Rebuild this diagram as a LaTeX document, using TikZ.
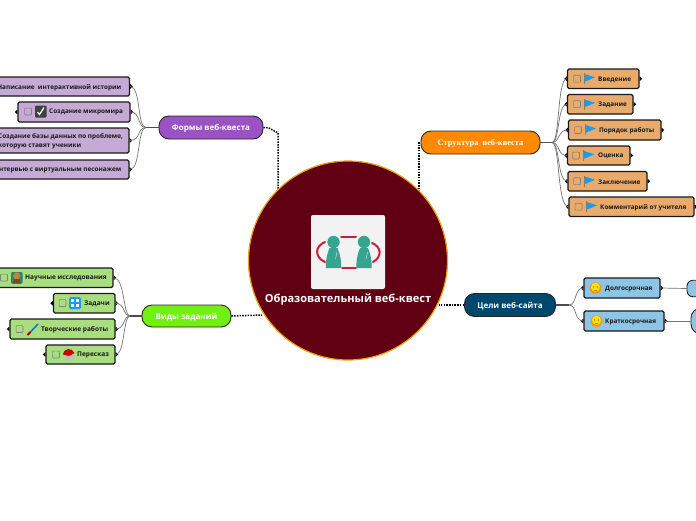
\documentclass[tikz,border=0pt]{standalone}
\usepackage{fontspec}
\setmainfont{Open Sans}
\newfontfamily\serifhead{Liberation Serif}
\tikzset{
 x=1pt,y=-1pt,
 mainbox/.style={draw=black!85,line width=0.9pt,rounded corners=10pt,inner sep=0pt,drop/.try},
 chbox/.style={draw=black!90,line width=1.3pt,rounded corners=1.5pt,inner sep=0pt},
 chtext/.style={inner sep=0pt,anchor=west,yshift=-0.8pt,font=\bfseries\fontsize{6.4}{8.5}\selectfont,text=black!90},
 kidtext/.style={chtext,font=\bfseries\fontsize{6.55}{8.5}\selectfont},
 maintext/.style={inner sep=0pt,yshift=-0.8pt,text=white,font=\bfseries\fontsize{8}{10}\selectfont},
 thick link/.style={draw=black!70,line width=1.3pt},
 thin link/.style={draw=black!55,line width=0.7pt},
 dotlink/.style={draw=black,line width=1.5pt,dash pattern=on 1.5pt off 1.2pt},
 cbox/.style={draw=black!50,line width=0.7pt,rounded corners=0.6pt,inner sep=0pt,minimum size=6.8pt},
}
\definecolor{cPurple}{HTML}{9B52C4}\definecolor{cLilac}{HTML}{C5AAD6}
\definecolor{cLime}{HTML}{72F011}\definecolor{cLeaf}{HTML}{A9DE80}
\definecolor{cOrange}{HTML}{FF8A00}\definecolor{cTan}{HTML}{E9AB6C}
\definecolor{cNavy}{HTML}{00476E}\definecolor{cSky}{HTML}{8CC5E6}
\definecolor{cWine}{HTML}{600012}\definecolor{cRing}{HTML}{F39C12}
\definecolor{cTeal}{HTML}{36A58F}\definecolor{cRed}{HTML}{C8203C}
\definecolor{cFlag}{HTML}{1E9BE8}
% name, left, right, top, bottom, fill
\newcommand{\kidbox}[6]{%
 \node[chbox,fill=#6,minimum width={(#3-(#2))*1pt},minimum height={(#5-#4)*1pt}] (#1) at ({(#2+#3)/2},{(#4+#5)/2}) {};
 \fill[black] (#1.east) ++(0,-2.4) -- ++(2.6,2.4) -- ++(-2.6,2.4) -- cycle;
 \fill[black] (#1.west) ++(0,-2.4) -- ++(-2.6,2.4) -- ++(2.6,2.4) -- cycle;
}
\newcommand{\flagicon}[2]{%
 \fill[cTan!70!black] ({#1-0.3},{#2-5}) rectangle ({#1+0.7},{#2+6});
 \fill[cFlag] ({#1+0.7},{#2-4}) -- ({#1+11},{#2-0.7}) -- ({#1+0.7},{#2+3.7}) -- cycle;
}
\newcommand{\faceicon}[2]{%
 \fill[orange!85!yellow] (#1,#2) circle (5.8);
 \fill[yellow!85!orange] (#1,{#2-0.8}) circle (4.6);
 \fill[black!70] ({#1-1.8},{#2-1}) circle (0.6) ({#1+1.8},{#2-1}) circle (0.6);
 \draw[black!60,line width=0.4pt] ({#1-1.8},{#2+2}) .. controls ({#1-0.6},{#2+3}) and ({#1+0.6},{#2+3}) .. ({#1+1.8},{#2+2});
}
\begin{document}
\begin{tikzpicture}
\useasboundingbox (0,0) rectangle (696,520);
\clip (0,0) rectangle (696,520);

% main topics
\node[mainbox,fill=cPurple,minimum width=104pt,minimum height=23pt] (forms) at (211,127.5) {};
\node[maintext] (formst) at (211,127.5) {Формы веб-квеста};
\node[mainbox,fill=cLime,minimum width=89pt,minimum height=22pt] (kinds) at (186.5,316) {};
\node[maintext] (kindst) at (186.5,316) {Виды заданий};
\node[mainbox,fill=cOrange,minimum width=119pt,minimum height=23pt] (struct) at (480.5,142.5) {};
\node[maintext,font=\serifhead\bfseries\fontsize{8.4}{10}\selectfont] (structt) at (480.5,143) {Структура\ \ веб-квеста};
\node[mainbox,fill=cNavy,minimum width=91pt,minimum height=23pt] (goals) at (510,305) {};
\node[maintext] (goalst) at (510,305) {Цели веб-сайта};

% dotted links to the centre (their ends lie under the central circle)
\coordinate (d0) at (268,127.5);
\coordinate (d1) at (278,133);
\coordinate (d1b) at (278,200);
\coordinate (d2) at (419,200);
\coordinate (d3) at (419,142.5);
\coordinate (d4) at (262,315);
\coordinate (d5) at (439,305);
\draw[dotlink] (forms.east) -- (d0) -- (d1) -- (d1b);
\draw[dotlink] (d2) -- (d3) -- (struct.west);
\draw[dotlink] (kinds.east) -- (d4);
\draw[dotlink] (goals.west) -- (d5);

% central topic
\node[circle,draw=cRing,line width=1.2pt,fill=cWine,minimum size=199pt,inner sep=0pt] (root) at (348,260.5) {};
\node[draw=none,fill=black!5,rounded corners=2pt,minimum size=74pt,inner sep=0pt] (icon) at (348,252) {};
\draw[cRed,line width=2pt,line cap=round] (325,242) .. controls (315,246) and (314,257) .. (325,262);
\draw[cRed,line width=2pt,line cap=round] (372,243) .. controls (382,247) and (382,257) .. (373,262);
\draw[cRed,line width=2pt,line cap=round] (341,237) -- (356,237) (342,268) -- (356,268);
\foreach \px in {333.5,364}{
 \fill[cTeal] (\px,242) circle (6.2);
 \fill[cTeal] ({\px-4},248) .. controls ({\px-7},255) and ({\px-8},262) .. ({\px-7.5},268) -- ({\px+7.5},268) .. controls ({\px+8},262) and ({\px+7},255) .. ({\px+4},248) -- cycle;
 \draw[white!60!cTeal,line width=0.6pt] ({\px+3.5},252) -- ({\px+2},259);
}
\node[inner sep=0pt,yshift=-0.8pt,text=white,font=\bfseries\fontsize{11.05}{13}\selectfont] (roottext) at (348,299) {Образовательный веб-квест};

% junctions
\coordinate (jf) at (146,127.5);
\coordinate (jk) at (130,316);
\coordinate (js) at (552,142.5);
\coordinate (jg) at (569,305);
\draw[thick link] (forms.west) -- (jf);
\draw[thick link] (kinds.west) -- (jk);
\draw[thick link] (struct.east) -- (js);
\draw[thick link] (goals.east) -- (jg);

% form children
\kidbox{f1}{-20}{129.5}{77}{96}{cLilac}
\kidbox{f2}{18}{130}{102}{122}{cLilac}
\kidbox{f3}{-20}{129}{128}{153}{cLilac}
\kidbox{f4}{-20}{129}{160}{179}{cLilac}
\foreach \k in {f1,f2,f3,f4}{\draw[thin link] (jf) .. controls (137,127.5) and (141,0 |- \k.east) .. (\k.east);}
\node[chtext,anchor=east] (f1t) at (121.5,86.5) {Написание\ \ интерактивной истории};
\node[cbox] (f2c) at (28,111.5) {};
\fill[black!75,rounded corners=1pt] (35,105.5) rectangle (46.5,117.5);
\draw[white,line width=1.2pt] (37.5,112) -- (39.5,114.5) -- (44,107.5);
\node[chtext] (f2t) at (49,111.5) {Создание микромира};
\node[chtext,align=left] (f3t) at (-2,140.5) {Создание базы данных по проблеме,\\которую ставят ученики};
\node[chtext,anchor=east] (f4t) at (121.5,169.5) {Интервью с виртуальным песонажем};

% kinds children
\kidbox{k1}{-20}{113}{268}{287.5}{cLeaf}
\kidbox{k2}{53.5}{115}{293.5}{313}{cLeaf}
\kidbox{k3}{10}{115}{319}{339}{cLeaf}
\kidbox{k4}{46}{115}{345}{364}{cLeaf}
\foreach \k in {k1,k2,k3,k4}{\draw[thin link] (jk) .. controls (123,316) and (125,0 |- \k.east) .. (\k.east);}
\node[cbox] (k1c) at (4,277.5) {};
\fill[cTeal!80!black,rounded corners=1pt] (11,272) rectangle (22.5,283.5);
\fill[brown!90!orange] (16.7,276) circle (3.6);
\fill[brown!60!black] (12.5,283.5) -- (14,279) -- (19.5,279) -- (21,283.5) -- cycle;
\node[kidtext] (k1t) at (25,277.5) {Научные исследования};
\node[cbox] (k2c) at (62.5,303) {};
\fill[cFlag,rounded corners=1.5pt] (69,297) rectangle (81,309);
\foreach \a in {72.5,77.5}{\foreach \b in {300.5,305.5}{\fill[white] ({\a-1.3},{\b-1.5}) rectangle ({\a+1.3},{\b+1.5});}}
\node[kidtext] (k2t) at (84,303) {Задачи};
\node[cbox] (k3c) at (19.5,329) {};
\draw[cFlag!80!black,line width=1.6pt] (38,324) -- (30.5,332);
\draw[red!70!black,line width=2pt] (30.5,332) -- (27.5,335);
\node[kidtext] (k3t) at (41,329) {Творческие работы};
\node[cbox] (k4c) at (56,354.5) {};
\fill[black!25] (65,354) -- (73,354) -- (74,359) -- (66,361) -- cycle;
\fill[red!80!black] (63,354.5) .. controls (64,347.5) and (72,347.5) .. (74.5,353) -- (69,356) -- cycle;
\node[kidtext] (k4t) at (77,354.5) {Пересказ};

% structure children
\kidbox{s1}{567.5}{639}{69}{88.5}{cTan}
\kidbox{s2}{567.5}{633}{94.5}{114}{cTan}
\kidbox{s3}{568.5}{661}{120}{140}{cTan}
\kidbox{s4}{567.5}{630}{146}{165}{cTan}
\kidbox{s5}{568}{647}{171.5}{191}{cTan}
\kidbox{s6}{569}{694}{197}{216.5}{cTan}
\foreach \k in {s1,s2,s3,s4,s5,s6}{\draw[thin link] (js) .. controls (560,142.5) and (557,0 |- \k.west) .. (\k.west);}
\node[cbox] (s1c) at (577,78.7) {};
\flagicon{584}{78}
\node[chtext] (s1t) at (598,78.7) {Введение};
\node[cbox] (s2c) at (577,104.2) {};
\flagicon{584}{103.5}
\node[chtext] (s2t) at (598,104.2) {Задание};
\node[cbox] (s3c) at (578,130) {};
\flagicon{585}{129}
\node[chtext] (s3t) at (599,130) {Порядок работы};
\node[cbox] (s4c) at (576,155.5) {};
\flagicon{583.5}{155}
\node[chtext] (s4t) at (598,155.5) {Оценка};
\node[cbox] (s5c) at (577,181.2) {};
\flagicon{584}{180.5}
\node[chtext] (s5t) at (598,181.2) {Заключение};
\node[cbox] (s6c) at (578.5,206.7) {};
\flagicon{586}{206}
\node[chtext] (s6t) at (600,206.7) {Комментарий от учителя};

% goal children
\kidbox{g1}{584}{660}{278}{298}{cSky}
\kidbox{g2}{584}{664}{311}{331}{cSky}
\foreach \k in {g1,g2}{\draw[thin link] (jg) .. controls (577,305) and (574,0 |- \k.west) .. (\k.west);}
\faceicon{595.5}{288}
\node[chtext] (g1t) at (605,288) {Долгосрочная};
\faceicon{596.5}{321}
\node[chtext] (g2t) at (605,321) {Краткосрочная};
\node[draw=black!85,line width=0.9pt,fill=cSky,rounded corners=6pt,minimum width=30pt,minimum height=16.5pt,inner sep=0pt] (g1r) at (702,288.5) {};
\node[draw=black!85,line width=0.9pt,fill=cSky,rounded corners=10pt,minimum width=30pt,minimum height=26pt,inner sep=0pt] (g2r) at (706,321) {};
\draw[thin link] (g1.east) -- (g1r.west);
\draw[thin link] (g2.east) -- (g2r.west);
\end{tikzpicture}
\end{document}
